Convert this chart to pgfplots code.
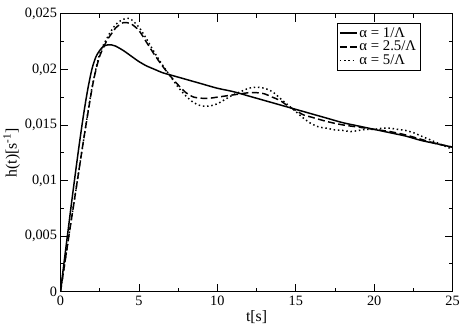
\documentclass[border=0pt]{standalone}
\usepackage{pgfplots}
\pgfplotsset{compat=1.18}
\usepackage{fontspec}
\setmainfont{Liberation Serif}
\begin{document}
\begin{tikzpicture}
\begin{axis}[
    scale only axis,
    width=398pt, height=282pt,
    xmin=0, xmax=25, ymin=0, ymax=0.025,
    xtick={0,5,10,15,20,25},
    xticklabels={0,5,10,15,20,25},
    ytick={0,0.005,0.01,0.015,0.02,0.025},
    yticklabels={0,{0,005},{0,01},{0,015},{0,02},{0,025}},
    scaled y ticks=false,
    minor x tick num=1, minor y tick num=1,
    major tick length=8pt, minor tick length=4pt,
    tick style={black, line width=0.8pt},
    axis line style={line width=1pt},
    tick label style={font=\fontsize{14.5}{15}\selectfont},
    label style={font=\fontsize{16}{17}\selectfont},
    xticklabel style={yshift=-1pt},
    xlabel={t[s]},
    xlabel style={yshift=2pt},
    ylabel={h(t)[s\textsuperscript{-1}]},
    ylabel style={yshift=-2pt},
    legend style={at={(0.918,0.966)}, anchor=north east, draw=black,
        line width=0.6pt, font=\fontsize{15}{15}\selectfont,
        inner sep=2pt, row sep=-1.5pt},
    legend cell align=left,
    legend image code/.code={\draw[#1] (0pt,0pt) -- (17pt,0pt);},
]
% alpha = 1/Lambda
\addplot[black, line width=1.5pt, smooth] coordinates {
    (0,0) (0.25,0.0029) (0.5,0.0057) (0.75,0.0085) (1.0,0.0112)
    (1.25,0.0138) (1.5,0.0162) (1.75,0.0183) (2.0,0.0200) (2.25,0.0211)
    (2.5,0.0217) (2.75,0.0221) (3.0,0.0222) (3.25,0.0222) (3.5,0.0221)
    (4.0,0.0217) (4.5,0.0212) (5.0,0.0207) (5.5,0.0203) (6.0,0.0200)
    (6.5,0.0197) (7.0,0.0195) (8,0.0191) (9,0.0187) (10,0.0183)
    (11,0.0180) (12,0.0176) (13,0.0172) (14,0.0168) (15,0.0164)
    (16,0.0160) (17,0.0156) (18,0.0152) (19,0.0149) (20,0.0146)
    (21,0.0143) (22,0.0140) (23,0.0136) (24,0.0133) (25,0.0130)
};
\addlegendentry{α = 1/Λ}
% alpha = 2.5/Lambda
\addplot[black, line width=1.5pt, smooth, dash pattern=on 7pt off 3.5pt] coordinates {
    (0,0) (0.5,0.0047) (1.0,0.0093) (1.5,0.0139) (2.0,0.0182)
    (2.25,0.0199) (2.5,0.0212) (2.75,0.0220) (3.0,0.0227) (3.25,0.0232)
    (3.5,0.0237) (3.75,0.0240) (4.0,0.0242) (4.25,0.0242) (4.5,0.0241)
    (5.0,0.0235) (5.5,0.0224) (6.0,0.0213) (6.5,0.0203) (7.0,0.0194)
    (7.5,0.0186) (8.0,0.0179) (8.5,0.0175) (9.0,0.0174) (9.5,0.0174)
    (10.0,0.0175) (10.5,0.0176) (11.0,0.0177) (11.5,0.0178) (12,0.0179)
    (12.5,0.0179) (13,0.0178) (13.5,0.0175) (14,0.0172) (14.5,0.0167)
    (15,0.0163) (15.5,0.0159) (16,0.0157) (17,0.0153) (18,0.0150)
    (19,0.0148) (20,0.0146) (21,0.0144) (22,0.0141) (23,0.0137)
    (24,0.0133) (25,0.0130)
};
\addlegendentry{α = 2.5/Λ}
% alpha = 5/Lambda
\addplot[black, line width=1.5pt, smooth, dash pattern=on 1.5pt off 2.8pt] coordinates {
    (0,0) (0.5,0.0047) (1.0,0.0093) (1.5,0.0139) (2.0,0.0183)
    (2.5,0.0214) (3.0,0.0229) (3.25,0.0235) (3.5,0.0240) (3.75,0.0243)
    (4.0,0.0245) (4.25,0.0246) (4.5,0.0245) (5.0,0.0238) (5.5,0.0227)
    (6.0,0.0215) (6.5,0.0204) (7.0,0.0194) (7.5,0.0184) (8.0,0.0176)
    (8.5,0.0170) (9.0,0.0167) (9.5,0.0167) (10.0,0.0169) (10.5,0.0173)
    (11.0,0.0177) (11.5,0.0180) (12.0,0.0183) (12.5,0.0184) (13.0,0.0183)
    (13.5,0.0180) (14.0,0.0174) (14.5,0.0168) (15.0,0.0162) (15.5,0.0156)
    (16.0,0.0151) (16.5,0.0148) (17.0,0.0147) (17.5,0.01455) (18.0,0.0145)
    (18.5,0.0144) (19.0,0.0145) (19.5,0.0146) (20.0,0.0146) (20.5,0.0147)
    (21.0,0.0147) (21.5,0.0146) (22.0,0.0145) (22.5,0.0143) (23.0,0.0140)
    (23.5,0.0137) (24.0,0.0134) (24.5,0.0131) (25,0.0128)
};
\addlegendentry{α = 5/Λ}
\end{axis}
% a little blank room above the top tick label, as in the reference
\path (0,296pt);
\end{tikzpicture}
\end{document}
